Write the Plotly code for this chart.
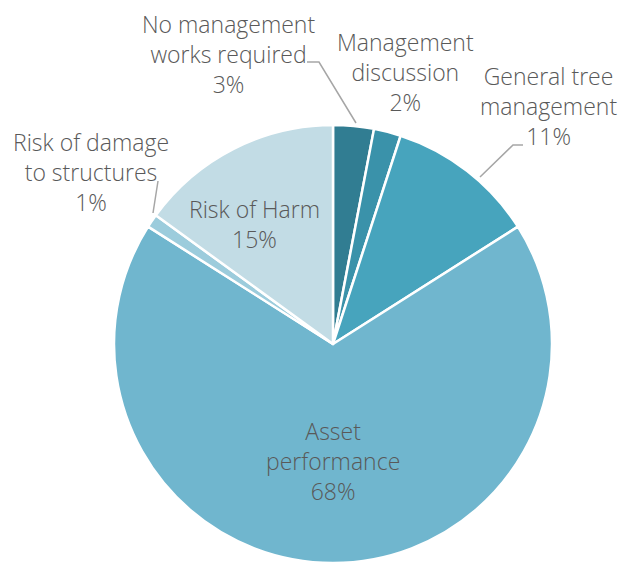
import plotly.graph_objects as go

W, H = 629, 563

categories = [
    "No management works required",
    "Management discussion",
    "General tree management",
    "Asset performance",
    "Risk of damage to structures",
    "Risk of Harm",
]
label_text = [
    "No management<br>works required",
    "Management<br>discussion",
    "General tree<br>management",
    "Asset<br>performance",
    "Risk of damage<br>to structures",
    "Risk of Harm",
]
values = [3, 2, 11, 68, 1, 15]

colors = ["#317D92", "#3A92AA", "#47A4BD", "#70B6CE", "#9CCCDC", "#C2DCE5"]

# label centre positions in pixels (x, y from top)
label_pos = [(228, 54), (405, 72), (548, 106), (333, 461), (91, 172), (254, 224)]

# leader lines in pixels
leaders = [
    [(307, 62), (319, 62), (356, 123)],
    None,
    [(523, 145), (513, 145), (480, 177)],
    None,
    [(158, 181), (153, 213)],
    None,
]

cx, cy, r = 333, 344, 219

fig = go.Figure(
    go.Pie(
        labels=categories,
        values=values,
        sort=False,
        direction="clockwise",
        rotation=0,
        textinfo="none",
        marker=dict(colors=colors, line=dict(color="white", width=2.5)),
        domain=dict(x=[(cx - r) / W, (cx + r) / W], y=[0, 2 * (H - cy) / H]),
        showlegend=False,
    )
)

font = dict(family="Open Sans", size=23, color="#595959", weight=300)

for txt, v, (px, py) in zip(label_text, values, label_pos):
    fig.add_annotation(
        x=px / W, y=1 - py / H, xref="paper", yref="paper",
        text=f"{txt}<br>{v}%", showarrow=False,
        xanchor="center", yanchor="middle", align="center", font=font,
    )

for pts in leaders:
    if not pts:
        continue
    path = "M " + " L ".join(f"{x / W},{1 - y / H}" for x, y in pts)
    fig.add_shape(type="path", path=path, xref="paper", yref="paper",
                  line=dict(color="#A6A6A6", width=1.5))

fig.update_layout(
    width=W, height=H,
    margin=dict(l=0, r=0, t=0, b=0),
    paper_bgcolor="white", plot_bgcolor="white",
)

fig.write_html(
    "out.html",
    config={"displayModeBar": False},
    post_script="document.body.style.margin='0';document.body.style.overflow='hidden';",
)
